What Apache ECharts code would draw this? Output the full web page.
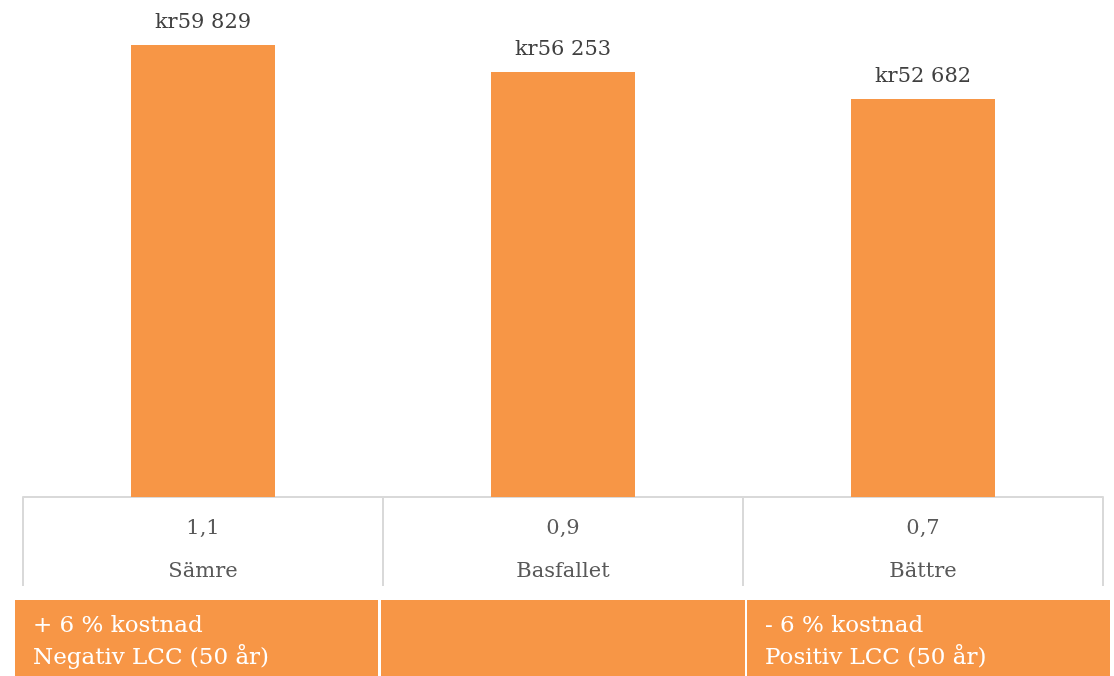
<!DOCTYPE html>
<html>
<head>
<meta charset="utf-8">
<script src="https://cdn.jsdelivr.net/npm/echarts@6/dist/echarts.min.js"></script>
<style>
  html, body { margin: 0; padding: 0; background: #ffffff; }
  #chart { width: 1114px; height: 676px; }
</style>
</head>
<body>
<div id="chart"></div>
<script>
// Scenario categories, cost factor per scenario and the LCC total (kr)
const categories = ['Sämre', 'Basfallet', 'Bättre'];
const factors = ['1,1', '0,9', '0,7'];
const lccValues = [59829, 56253, 52682];

// Notes shown under the scenarios
const noteLines = [
  ['+ 6 % kostnad', 'Negativ LCC (50 år)'],
  [],
  ['- 6 % kostnad', 'Positiv LCC (50 år)']
];

const FONT = '"DejaVu Serif", "Liberation Serif", serif';
const ORANGE = '#F79646';
const GREY_TEXT = '#595959';
const RULE = '#D9D9D9';

function formatKr(v) {
  return 'kr' + String(v).replace(/\B(?=(\d{3})+(?!\d))/g, ' ');
}

const chart = echarts.init(document.getElementById('chart'), null, { renderer: 'canvas' });

const gridLeft = 23, gridRight = 11;
const noteTop = 600;
// horizontal extents of the note boxes (left, right)
const noteBoxes = [[15, 378], [381, 745], [747, 1110]];

const graphics = [];
noteLines.forEach((lines, i) => {
  const [x0, x1] = noteBoxes[i];
  graphics.push({
    type: 'rect',
    shape: { x: x0, y: noteTop, width: x1 - x0, height: 676 - noteTop },
    style: { fill: ORANGE }
  });
  if (lines.length) {
    graphics.push({
      type: 'text',
      x: x0 + 18,
      y: noteTop + 10,
      style: {
        text: lines.join('\n'),
        fill: '#ffffff',
        font: '23px ' + FONT,
        lineHeight: 32
      }
    });
  }
});

chart.setOption({
  animation: false,
  grid: { left: gridLeft, right: gridRight, top: 6, bottom: 179, containLabel: false },
  xAxis: {
    type: 'category',
    data: categories,
    axisLine: { show: true, lineStyle: { color: RULE, width: 2 } },
    axisTick: { show: true, length: 89, lineStyle: { color: RULE, width: 2 } },
    axisLabel: {
      margin: 10,
      formatter: (val, idx) => '{f|' + factors[idx] + '}\n{c|' + val + '}',
      rich: {
        f: { fontFamily: FONT, fontSize: 21, color: GREY_TEXT, lineHeight: 43 },
        c: { fontFamily: FONT, fontSize: 21, color: GREY_TEXT, lineHeight: 43 }
      }
    }
  },
  yAxis: {
    type: 'value',
    min: 0,
    max: 65000,
    show: false,
    splitLine: { show: false }
  },
  series: [{
    type: 'bar',
    data: lccValues,
    barWidth: '40%',
    itemStyle: { color: ORANGE },
    label: {
      show: true,
      position: 'top',
      distance: 12,
      formatter: p => formatKr(p.value),
      fontFamily: FONT,
      fontSize: 21,
      color: '#404040'
    }
  }],
  graphic: graphics
});
</script>
</body>
</html>
